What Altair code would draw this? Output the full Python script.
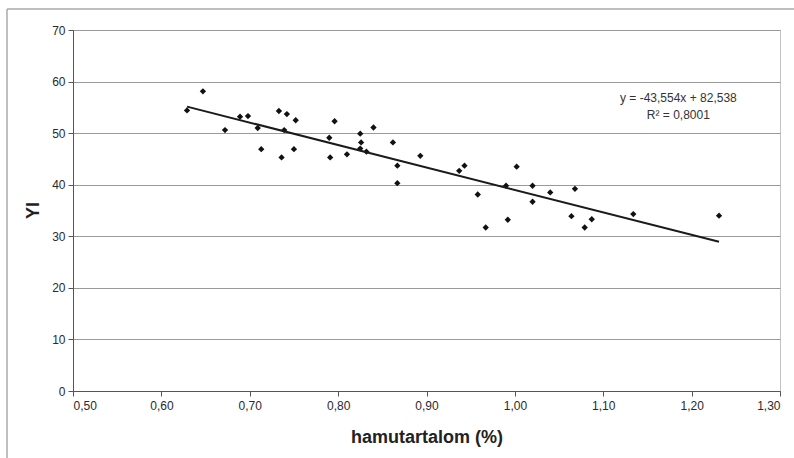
import altair as alt
import pandas as pd

# Data
hamu = [0.629, 0.647, 0.672, 0.689, 0.698, 0.709, 0.713, 0.733, 0.742, 0.752,
        0.739, 0.736, 0.750, 0.790, 0.796, 0.791, 0.810, 0.825, 0.826, 0.825,
        0.832, 0.840, 0.862, 0.867, 0.867, 0.893, 0.937, 0.943, 0.958, 0.967,
        0.990, 0.992, 1.002, 1.020, 1.020, 1.040, 1.068, 1.064, 1.079, 1.087,
        1.134, 1.231]
yi = [54.4, 58.1, 50.6, 53.2, 53.3, 51.0, 46.9, 54.3, 53.7, 52.5,
      50.6, 45.3, 46.9, 49.1, 52.3, 45.3, 45.9, 49.9, 48.2, 47.0,
      46.4, 51.1, 48.2, 43.7, 40.3, 45.6, 42.7, 43.7, 38.1, 31.7,
      39.8, 33.2, 43.5, 39.8, 36.7, 38.5, 39.2, 33.9, 31.7, 33.3,
      34.3, 34.0]

slope = -43.554
intercept = 82.538
trend_x = [0.629, 1.231]
eq_lines = ["y = -43,554x + 82,538", "R² = 0,8001"]
eq_x = [1.185, 1.185]
eq_y = [56.8, 53.5]

W, H = 707, 361
FONT = "Liberation Sans"

pts = pd.DataFrame({"x": hamu, "y": yi})
trend = pd.DataFrame({"x": trend_x, "y": [slope * v + intercept for v in trend_x]})
eq = pd.DataFrame({"x": eq_x, "y": eq_y, "t": eq_lines})

xscale = alt.Scale(domain=[0.5, 1.3], nice=False, zero=False)
yscale = alt.Scale(domain=[0, 70], nice=False)

comma2 = "replace(format(datum.value, '.2f'), '.', ',')"

xax = alt.Axis(values=[0.5, 0.6, 0.7, 0.8, 0.9, 1.0, 1.1, 1.2, 1.3],
               labelExpr=comma2, grid=False, tickSize=5, labelPadding=4,
               labelFontSize=12, labelColor="#2a2a2a", labelFont=FONT,
               domainColor="#555555", tickColor="#555555",
               title="hamutartalom (%)", titleFont=FONT, titleFontSize=18,
               titleFontWeight="bold", titleColor="#222222",
               titleY=46, titleBaseline="middle")
yax = alt.Axis(values=[0, 10, 20, 30, 40, 50, 60, 70], grid=True,
               gridColor="#9a9a9a", gridWidth=1, tickSize=5, labelPadding=3,
               labelFontSize=12, labelColor="#2a2a2a", labelFont=FONT,
               domainColor="#555555", tickColor="#555555",
               title="YI", titleFont=FONT, titleFontSize=18,
               titleFontWeight="bold", titleColor="#222222",
               titleX=-40, titleY=180, titleBaseline="middle", titleAngle=-90)

points = alt.Chart(pts).mark_point(shape="diamond", filled=True, color="#111111",
                                   size=40, opacity=1).encode(
    x=alt.X("x:Q", scale=xscale, axis=xax),
    y=alt.Y("y:Q", scale=yscale, axis=yax),
)

line = alt.Chart(trend).mark_line(color="#1a1a1a", strokeWidth=2).encode(
    x=alt.X("x:Q", scale=xscale),
    y=alt.Y("y:Q", scale=yscale),
)

text = alt.Chart(eq).mark_text(font=FONT, fontSize=12, color="#333333",
                               align="center", baseline="middle").encode(
    x=alt.X("x:Q", scale=xscale),
    y=alt.Y("y:Q", scale=yscale),
    text="t:N",
)

frame_top = alt.Chart(pd.DataFrame({"a": [0]})).mark_rule(color="#aaaaaa", strokeWidth=1.5).encode(
    x=alt.value(-66), x2=alt.value(721), y=alt.value(-21))
frame_left = alt.Chart(pd.DataFrame({"a": [0]})).mark_rule(color="#aaaaaa", strokeWidth=1.5).encode(
    x=alt.value(-66), y=alt.value(-21), y2=alt.value(428))

chart = alt.layer(frame_top, frame_left, points, line, text).properties(
    width=W, height=H,
    autosize=alt.AutoSizeParams(type="none"),
    padding={"left": 73, "top": 30, "right": 14, "bottom": 67},
    background="white",
).configure_view(stroke="#888888", strokeDash=[1, 1], strokeWidth=1)

chart.save("out.html", embed_options={"renderer": "svg", "actions": False})
